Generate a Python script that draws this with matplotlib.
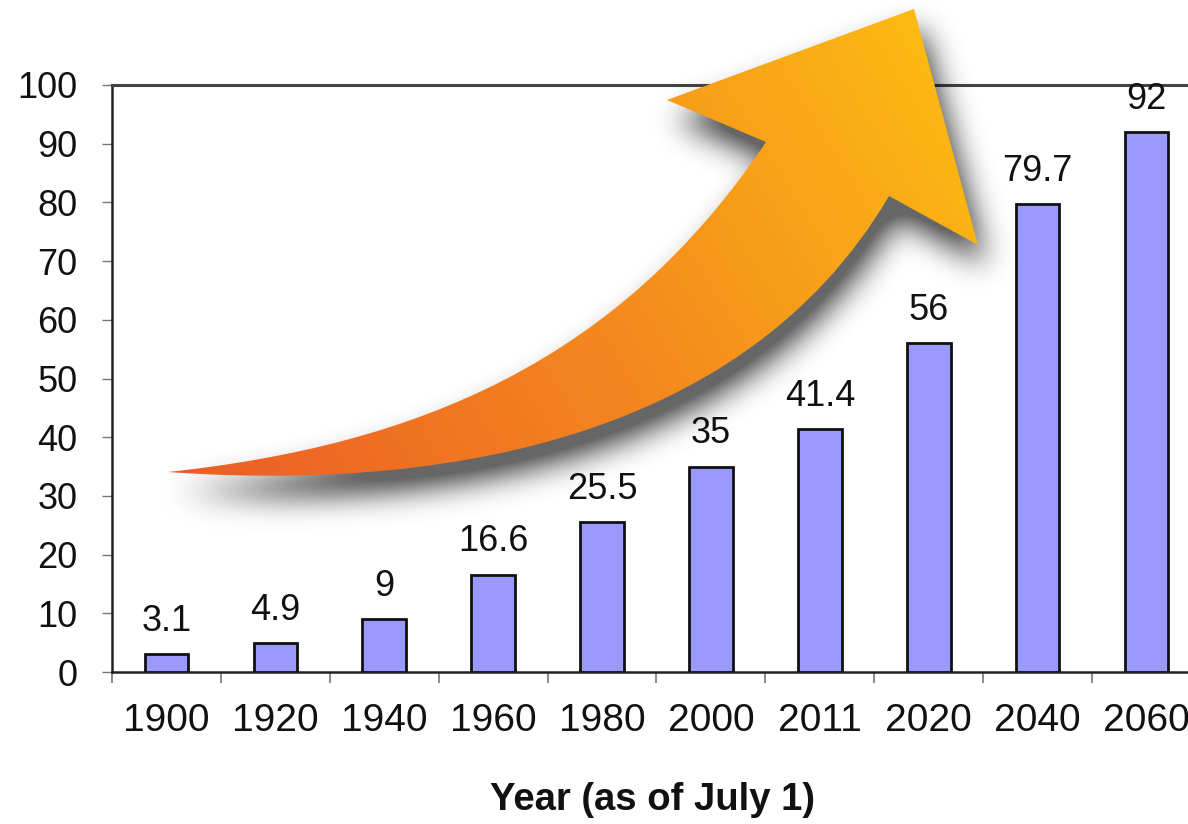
import numpy as np
import matplotlib
matplotlib.use("Agg")
import matplotlib.pyplot as plt
from matplotlib.path import Path
from matplotlib.patches import PathPatch

plt.rcParams["font.family"] = ["Liberation Sans", "DejaVu Sans"]

# population (millions) aged 65+, by year
years = ["1900", "1920", "1940", "1960", "1980", "2000", "2011", "2020", "2040", "2060"]
values = [3.1, 4.9, 9, 16.6, 25.5, 35, 41.4, 56, 79.7, 92]
value_labels = ["3.1", "4.9", "9", "16.6", "25.5", "35", "41.4", "56", "79.7", "92"]

W, H = 1188, 824
fig = plt.figure(figsize=(W / 100, H / 100), dpi=100)
fig.patch.set_facecolor("white")

# plot area runs a little past the right edge of the figure
ax = fig.add_axes([112 / W, 152 / H, 1089 / W, 587 / H])
x = np.arange(len(years))
ax.bar(x, values, width=0.4, color="#9999FF", edgecolor="#111111", linewidth=2.0, zorder=3)
for xi, v, lab in zip(x, values, value_labels):
    ax.annotate(lab, (xi, v), xytext=(0, 11), textcoords="offset points",
                ha="center", va="bottom", fontsize=26, color="#111111",
                annotation_clip=False, zorder=5)

ax.set_xlim(-0.5, len(years) - 0.5)
ax.set_ylim(0, 100)
ax.set_yticks(np.arange(0, 101, 10))
ax.tick_params(axis="y", direction="out", length=7, width=1.0, color="#777777",
               labelsize=26, pad=18, labelcolor="#111111")
ax.set_xticks(x)
ax.set_xticklabels(years)
ax.set_xticks(np.arange(-0.5, len(years), 1.0), minor=True)
ax.tick_params(axis="x", which="major", length=0, labelsize=28, pad=22, labelcolor="#111111")
ax.tick_params(axis="x", which="minor", direction="out", length=8, width=1.2, color="#777777")

ax.spines["left"].set_linewidth(1.8)
ax.spines["left"].set_color("#222222")
ax.spines["bottom"].set_linewidth(1.8)
ax.spines["bottom"].set_color("#222222")
ax.spines["top"].set_linewidth(2.2)
ax.spines["top"].set_color("#444444")
ax.spines["right"].set_visible(False)

fig.text(652 / W, (H - 810) / H, "Year (as of July 1)", ha="center", va="baseline",
         fontsize=27.5, fontweight="bold", color="#111111")

# curved "growth" arrow drawn in pixel space on an overlay
ov = fig.add_axes([0, 0, 1, 1], zorder=10)
ov.set_xlim(0, W)
ov.set_ylim(H, 0)
ov.axis("off")
ov.patch.set_alpha(0)

verts = [
    (168, 472),
    (420, 445), (620, 360), (766, 142),   # upper edge
    (667, 100),                           # left barb
    (914, 9),                             # tip
    (978, 245),                           # right barb
    (889, 196),
    (740, 450), (420, 490), (168, 472),   # lower edge
    (168, 472),
]
codes = [Path.MOVETO,
         Path.CURVE4, Path.CURVE4, Path.CURVE4,
         Path.LINETO, Path.LINETO, Path.LINETO, Path.LINETO,
         Path.CURVE4, Path.CURVE4, Path.CURVE4,
         Path.CLOSEPOLY]
arrow = Path(verts, codes)


def gauss_blur(img, sigma):
    r = int(3 * sigma)
    k = np.exp(-0.5 * (np.arange(-r, r + 1) / sigma) ** 2)
    k /= k.sum()
    out = np.apply_along_axis(lambda row: np.convolve(row, k, mode="same"), 1, img)
    out = np.apply_along_axis(lambda col: np.convolve(col, k, mode="same"), 0, out)
    return out


# soft drop shadow, offset down and right
gx, gy = np.meshgrid(np.arange(W) + 0.5, np.arange(H) + 0.5)
pts = np.column_stack([gx.ravel() - 8, gy.ravel() - 20])
mask = arrow.contains_points(pts).reshape(H, W).astype(float)
shadow = gauss_blur(mask, 15)
sh = np.zeros((H, W, 4))
sh[..., 3] = np.clip(0.8 * shadow, 0, 0.6)
ov.imshow(sh, extent=(0, W, H, 0), interpolation="bilinear", zorder=1)

# orange-to-yellow gradient fill
d = np.array([914 - 168, 9 - 472], dtype=float)
t = ((gx - 168) * d[0] + (gy - 472) * d[1]) / (d @ d)
t = np.clip(t, 0, 1)
c0 = np.array([0.925, 0.36, 0.15])
c1 = np.array([0.955, 0.53, 0.12])
c2 = np.array([0.99, 0.73, 0.075])
grad = np.where(t[..., None] < 0.5,
                c0 + (c1 - c0) * (t[..., None] / 0.5),
                c1 + (c2 - c1) * ((t[..., None] - 0.5) / 0.5))
patch = PathPatch(arrow, facecolor="none", edgecolor="none")
ov.add_patch(patch)
im = ov.imshow(grad, extent=(0, W, H, 0), interpolation="bilinear", zorder=2)
im.set_clip_path(patch)

plt.savefig("out.png", dpi=100)
